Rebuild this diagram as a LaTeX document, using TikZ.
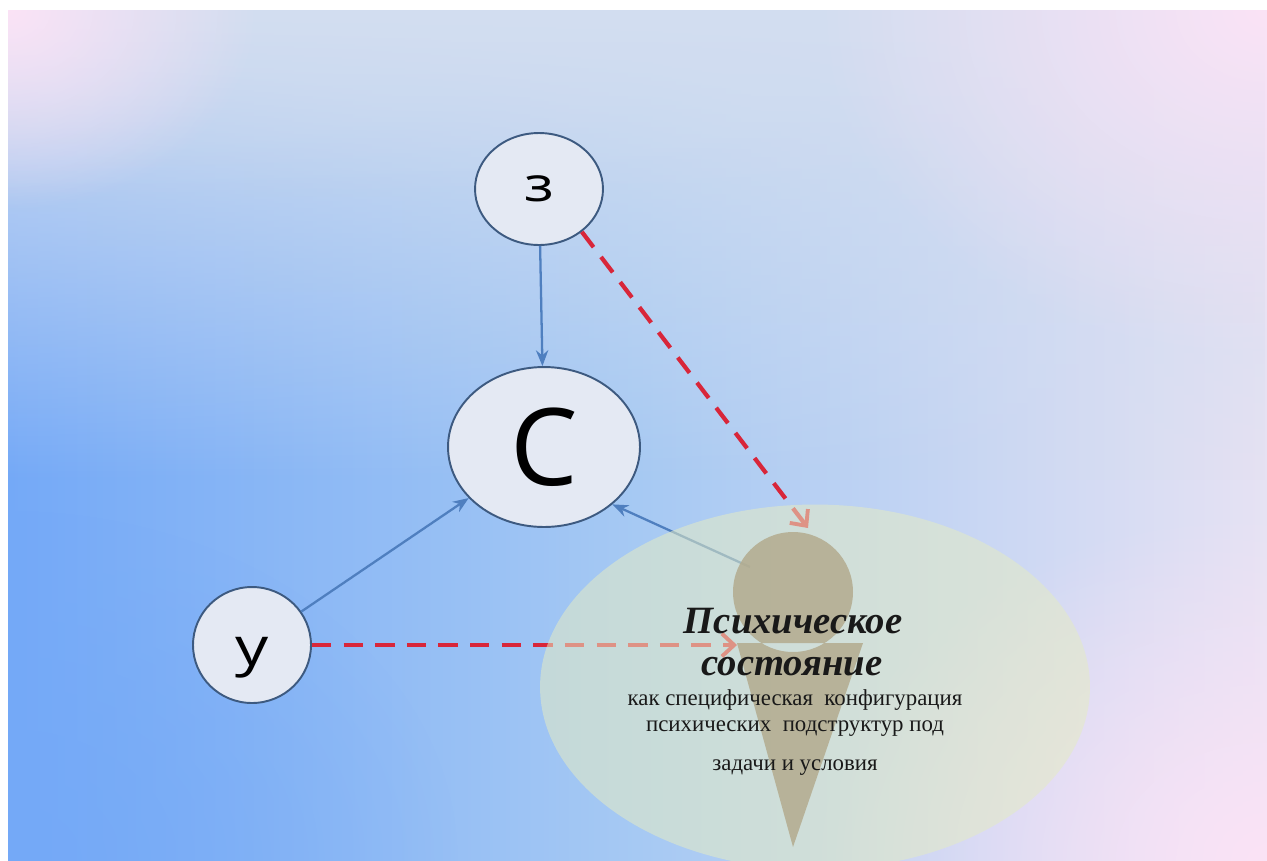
\documentclass[tikz,border=0pt]{standalone}
\usepackage{fontspec}
\setmainfont{Liberation Serif}
\newfontfamily\lettfont{Open Sans}
\usetikzlibrary{arrows.meta,fadings,shapes.geometric}
\tikzfading[name=myfadeout, inner color=transparent!0, outer color=transparent!100]
\definecolor{bgblue}{HTML}{74A9F7}
\definecolor{bgmid}{HTML}{A6C9F3}
\definecolor{bgright}{HTML}{E6E2F3}
\definecolor{bgtop}{HTML}{D3DEF0}
\definecolor{bgpink}{HTML}{FBE3F6}
\definecolor{nodefill}{HTML}{E4E9F3}
\definecolor{nodeline}{HTML}{3D5A80}
\definecolor{bluearrow}{HTML}{4F7FBF}
\definecolor{redarrow}{HTML}{D8263A}
\definecolor{ellfill}{HTML}{E4EBC4}
\definecolor{conefill}{HTML}{B3AB8E}
\tikzset{
  letter/.style={ellipse, draw=nodeline, line width=1.1pt, fill=nodefill, inner sep=0pt, text=black},
  bluearr/.style={draw=bluearrow, line width=1.3pt, -{Stealth[length=9pt,width=7pt]}},
  redarr/.style={draw=redarrow, line width=2.4pt, dash pattern=on 11pt off 7pt, -{Straight Barb[length=7pt,width=13pt,line width=2.2pt]}},
  txt/.style={inner sep=0pt, text=black!90}
}
\begin{document}
\begin{tikzpicture}[x=0.02cm,y=-0.02cm]
\useasboundingbox (0,0) rectangle (1267,860);
% background
\path[left color=bgblue, right color=bgright, middle color=bgmid] (8,10) rectangle (1267,860);
\begin{scope}
\clip (8,10) rectangle (1267,860);
\fill[bgtop, path fading=south] (8,10) rectangle (1267,480);
\fill[bgtop, path fading=south, opacity=0.6] (8,10) rectangle (1267,200);
\fill[bgpink, path fading=myfadeout] (8,10) ellipse [x radius=5cm, y radius=4cm];
\fill[bgpink, path fading=myfadeout] (1267,10) ellipse [x radius=9cm, y radius=7cm];
\fill[bgpink, path fading=myfadeout] (1267,860) ellipse [x radius=9cm, y radius=7cm];
\fill[bgblue, opacity=0.8, path fading=myfadeout] (8,860) ellipse [x radius=9cm, y radius=7cm];
\end{scope}
% nodes
\node[letter, minimum width=2.56cm, minimum height=2.24cm, font=\lettfont\fontsize{27pt}{29pt}\selectfont] (Z) at (539,189) {\scalebox{1.3}[1]{з}};
\node[letter, minimum width=3.84cm, minimum height=3.2cm, font=\lettfont\fontsize{61pt}{63pt}\selectfont] (C) at (544,447) {С};
\node[letter, minimum width=2.36cm, minimum height=2.32cm, text height=0.8cm, text depth=0cm, font=\lettfont\fontsize{30pt}{32pt}\selectfont] (U) at (252,645) {\scalebox{1.25}[1]{у}};
\coordinate (bulb) at (750,567);
\coordinate (tipA) at (808,528);
\coordinate (tipB) at (737,645);
% connectors
\draw[bluearr] (Z) -- (C);
\draw[bluearr] (U) -- (C);
\draw[bluearr] (bulb) -- (C.-40);
\draw[redarr] (Z.-45) -- (tipA);
\draw[redarr] (U.east) -- (tipB);
% ellipse and cone
\begin{scope}
\clip (8,10) rectangle (1267,860);
\fill[ellfill, opacity=0.55] (815,687) ellipse [x radius=5.5cm, y radius=3.65cm];
\fill[conefill, opacity=0.85] (793,592) circle [radius=1.2cm] (737,643) -- (863,643) -- (793,847) -- cycle;
\end{scope}
% text
\node[txt, font=\fontsize{22pt}{24pt}\selectfont\bfseries\itshape] (t1) at (793,621) {Психическое};
\node[txt, font=\fontsize{22pt}{24pt}\selectfont\bfseries\itshape] (t2) at (792,667) {состояние};
\node[txt, font=\fontsize{13pt}{15pt}\selectfont] (t3) at (795,700) {как специфическая\ \ конфигурация};
\node[txt, font=\fontsize{13pt}{15pt}\selectfont] (t4) at (795,729) {психических\ \ подструктур под};
\node[txt, font=\fontsize{13pt}{15pt}\selectfont] (t5) at (795,768) {задачи и условия};
\end{tikzpicture}
\end{document}
